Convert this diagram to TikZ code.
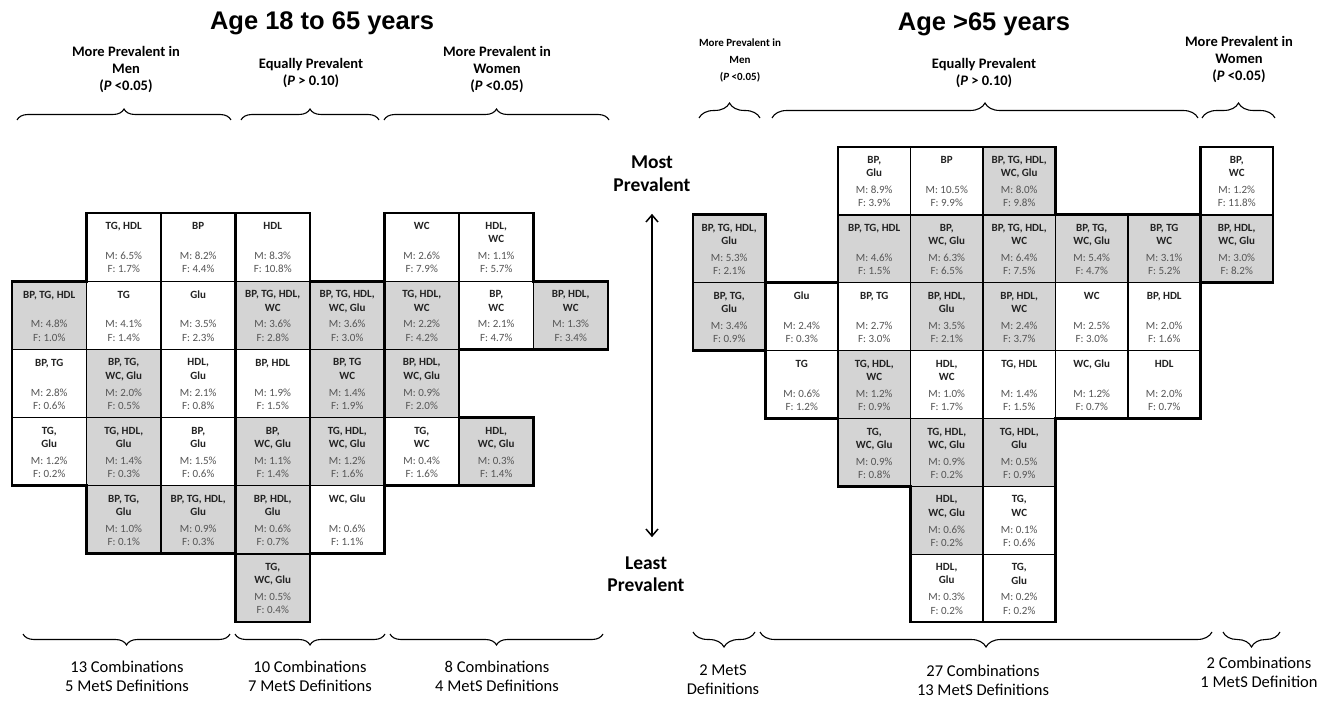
\documentclass[tikz,border=0pt]{standalone}
\usepackage{fontspec}
\setmainfont{Carlito}
\newfontfamily\titlefont{Liberation Sans}
\usepackage{tikz}
\usetikzlibrary{positioning, arrows.meta, decorations.pathreplacing}

\definecolor{cellw}{RGB}{255,255,255}
\definecolor{cellg}{RGB}{212,212,212}
\definecolor{labtxt}{RGB}{35,35,35}
\definecolor{valtxt}{RGB}{85,85,85}

\begin{document}
\begin{tikzpicture}[
    x=1pt, y=-1pt,
    >={Straight Barb[length=7pt, width=12pt]},
    lcell/.style={rectangle, draw=black, line width=1.3pt, minimum width=74.5pt,
        minimum height=68.17pt, inner sep=0pt, outer sep=0pt},
    rcell/.style={lcell, minimum width=72.5pt, minimum height=67.86pt},
    lab/.style={font=\bfseries\fontsize{11}{13.3}\selectfont, align=center,
        anchor=north, inner sep=0pt, text=labtxt,
        execute at begin node={\rule{0pt}{7.6pt}}},
    val/.style={font=\fontsize{11}{13.3}\selectfont, align=center,
        anchor=base, inner sep=0pt, text=valtxt},
    grp/.style={line width=2.8pt, line join=miter},
    brc/.style={decorate, decoration={brace, amplitude=#1}, line width=1.1pt},
    ttl/.style={font=\titlefont\bfseries\fontsize{25.5}{29}\selectfont},
    hdr/.style={font=\bfseries\fontsize{14.5}{17}\selectfont, align=center, inner sep=1pt},
    btm/.style={font=\fontsize{16.5}{19}\selectfont, align=center, inner sep=1pt},
    side/.style={font=\bfseries\fontsize{19.5}{22.5}\selectfont, align=center, inner sep=2pt},
    ]

    \fill[white] (0,0) rectangle (1318,703);
    \useasboundingbox (0,0) rectangle (1318,703);

    % titles and group headers
    \node[ttl] (ttlL) at (322,23) {Age 18 to 65 years};
    \node[ttl] (ttlR) at (984,24) {Age >65 years};

    \node[hdr] (menL) at (126,70) {More Prevalent in\\Men\\(\textit{P} <0.05)};
    \node[hdr] (eqL) at (311,73) {Equally Prevalent\\(\textit{P} > 0.10)};
    \node[hdr] (womL) at (497,70) {More Prevalent in\\Women\\(\textit{P} <0.05)};
    \node[hdr, font=\bfseries\fontsize{11}{17}\selectfont] (menR) at (740,60) {More Prevalent in\\Men\\(\textit{P} <0.05)};
    \node[hdr] (eqR) at (984,73) {Equally Prevalent\\(\textit{P} > 0.10)};
    \node[hdr] (womR) at (1239,60) {More Prevalent in\\Women\\(\textit{P} <0.05)};

    \draw[brc=11pt] (17,120) -- (231,120);
    \draw[brc=11pt] (241,120) -- (379,120);
    \draw[brc=11pt] (384,120) -- (609,120);
    \draw[brc=15pt] (699,118) -- (760,118);
    \draw[brc=15pt] (772,118) -- (1198,118);
    \draw[brc=15pt] (1202,118) -- (1275,118);

    % age 18 to 65
    \foreach \cc/\rr/\fc/\txt/\mv/\fv in {
        1/0/w/{TG, HDL}/6.5/1.7, 2/0/w/BP/8.2/4.4, 3/0/w/HDL/8.3/10.8,
        5/0/w/WC/2.6/7.9, 6/0/w/{HDL,\\WC}/1.1/5.7,
        0/1/g/{BP, TG, HDL}/4.8/1.0, 1/1/w/TG/4.1/1.4, 2/1/w/Glu/3.5/2.3,
        3/1/g/{BP, TG, HDL,\\WC}/3.6/2.8, 4/1/g/{BP, TG, HDL,\\WC, Glu}/3.6/3.0,
        5/1/g/{TG, HDL,\\WC}/2.2/4.2, 6/1/w/{BP,\\WC}/2.1/4.7, 7/1/g/{BP, HDL,\\WC}/1.3/3.4,
        0/2/w/{BP, TG}/2.8/0.6, 1/2/g/{BP, TG,\\WC, Glu}/2.0/0.5, 2/2/w/{HDL,\\Glu}/2.1/0.8,
        3/2/w/{BP, HDL}/1.9/1.5, 4/2/g/{BP, TG\\WC}/1.4/1.9, 5/2/g/{BP, HDL,\\WC, Glu}/0.9/2.0,
        0/3/w/{TG,\\Glu}/1.2/0.2, 1/3/g/{TG, HDL,\\Glu}/1.4/0.3, 2/3/w/{BP,\\Glu}/1.5/0.6,
        3/3/g/{BP,\\WC, Glu}/1.1/1.4, 4/3/g/{TG, HDL,\\WC, Glu}/1.2/1.6,
        5/3/w/{TG,\\WC}/0.4/1.6, 6/3/g/{HDL,\\WC, Glu}/0.3/1.4,
        1/4/g/{BP, TG,\\Glu}/1.0/0.1, 2/4/g/{BP, TG, HDL,\\Glu}/0.9/0.3,
        3/4/g/{BP, HDL,\\Glu}/0.6/0.7, 4/4/w/{WC, Glu}/0.6/1.1,
        3/5/g/{TG,\\WC, Glu}/0.5/0.4}{
        \node[lcell, fill=cell\fc] (L-\cc-\rr) at ({12+74.5*(\cc+0.5)},{213+68.17*(\rr+0.5)}) {};
        \node[lab] at ([yshift=-9.2pt]L-\cc-\rr.north) {\txt};
        \node[val] at ([yshift=-60pt]L-\cc-\rr.north) {M: \mv\%\\F: \fv\%};
    }
    \draw[grp] (86.5,213) -- (235.5,213) -- (235.5,553.8) -- (86.5,553.8) -- (86.5,485.7)
        -- (12,485.7) -- (12,281.2) -- (86.5,281.2) -- cycle;
    \draw[grp] (235.5,213) -- (310,213) -- (310,281.2) -- (384.5,281.2) -- (384.5,553.8)
        -- (310,553.8) -- (310,622) -- (235.5,622) -- cycle;
    \draw[grp] (384.5,213) -- (533.5,213) -- (533.5,281.2) -- (608,281.2) -- (608,349.3)
        -- (459,349.3) -- (459,417.5) -- (533.5,417.5) -- (533.5,485.7) -- (384.5,485.7) -- cycle;

    % age over 65
    \foreach \cc/\rr/\fc/\txt/\mv/\fv in {
        2/0/w/{BP,\\Glu}/8.9/3.9, 3/0/w/BP/10.5/9.9, 4/0/g/{BP, TG, HDL,\\WC, Glu}/8.0/9.8,
        7/0/w/{BP,\\WC}/1.2/11.8,
        0/1/g/{BP, TG, HDL,\\Glu}/5.3/2.1, 2/1/g/{BP, TG, HDL}/4.6/1.5, 3/1/g/{BP,\\WC, Glu}/6.3/6.5,
        4/1/g/{BP, TG, HDL,\\WC}/6.4/7.5, 5/1/g/{BP, TG,\\WC, Glu}/5.4/4.7,
        6/1/g/{BP, TG\\WC}/3.1/5.2, 7/1/g/{BP, HDL,\\WC, Glu}/3.0/8.2,
        0/2/g/{BP, TG,\\Glu}/3.4/0.9, 1/2/w/Glu/2.4/0.3, 2/2/w/{BP, TG}/2.7/3.0,
        3/2/g/{BP, HDL,\\Glu}/3.5/2.1, 4/2/g/{BP, HDL,\\WC}/2.4/3.7, 5/2/w/WC/2.5/3.0,
        6/2/w/{BP, HDL}/2.0/1.6,
        1/3/w/TG/0.6/1.2, 2/3/g/{TG, HDL,\\WC}/1.2/0.9, 3/3/w/{HDL,\\WC}/1.0/1.7,
        4/3/w/{TG, HDL}/1.4/1.5, 5/3/w/{WC, Glu}/1.2/0.7, 6/3/w/HDL/2.0/0.7,
        2/4/g/{TG,\\WC, Glu}/0.9/0.8, 3/4/g/{TG, HDL,\\WC, Glu}/0.9/0.2,
        4/4/g/{TG, HDL,\\Glu}/0.5/0.9,
        3/5/g/{HDL,\\WC, Glu}/0.6/0.2, 4/5/w/{TG,\\WC}/0.1/0.6,
        3/6/w/{HDL,\\Glu}/0.3/0.2, 4/6/w/{TG,\\Glu}/0.2/0.2}{
        \node[rcell, fill=cell\fc] (R-\cc-\rr) at ({693+72.5*(\cc+0.5)},{147+67.86*(\rr+0.5)}) {};
        \node[lab] at ([yshift=-9.2pt]R-\cc-\rr.north) {\txt};
        \node[val] at ([yshift=-60pt]R-\cc-\rr.north) {M: \mv\%\\F: \fv\%};
    }
    \draw[grp] (693,214.9) -- (765.5,214.9) -- (765.5,350.6) -- (693,350.6) -- cycle;
    \draw[grp] (1200.5,147) -- (1273,147) -- (1273,282.7) -- (1200.5,282.7) -- cycle;
    \draw[grp] (838,147) -- (1055.5,147) -- (1055.5,214.9) -- (1200.5,214.9) -- (1200.5,418.4)
        -- (1055.5,418.4) -- (1055.5,622) -- (910.5,622) -- (910.5,486.3) -- (838,486.3)
        -- (838,418.4) -- (765.5,418.4) -- (765.5,282.7) -- (838,282.7) -- cycle;

    % prevalence scale
    \node[side] (most) at (652,174) {Most\\Prevalent};
    \node[side] (least) at (646,574) {Least\\Prevalent};
    \draw[<->, line width=1.5pt, shorten <=20pt, shorten >=17pt] (most.south) -- (most.south |- least.north);

    % bottom braces and counts
    \draw[brc=11pt] (230,634) -- (23,634);
    \draw[brc=11pt] (385,634) -- (235,634);
    \draw[brc=11pt] (603,634) -- (390,634);
    \draw[brc=15pt] (755,632) -- (693,632);
    \draw[brc=15pt] (1212,632) -- (760,632);
    \draw[brc=15pt] (1280,632) -- (1223,632);

    \node[btm] (cntL1) at (127,676) {13 Combinations\\5 MetS Definitions};
    \node[btm] (cntL2) at (310,676) {10 Combinations\\7 MetS Definitions};
    \node[btm] (cntL3) at (497,676) {8 Combinations\\4 MetS Definitions};
    \node[btm] (cntR1) at (723,680) {2 MetS\\Definitions};
    \node[btm] (cntR2) at (983,680) {27 Combinations\\13 MetS Definitions};
    \node[btm] (cntR3) at (1259,672) {2 Combinations\\1 MetS Definition};

\end{tikzpicture}
\end{document}
